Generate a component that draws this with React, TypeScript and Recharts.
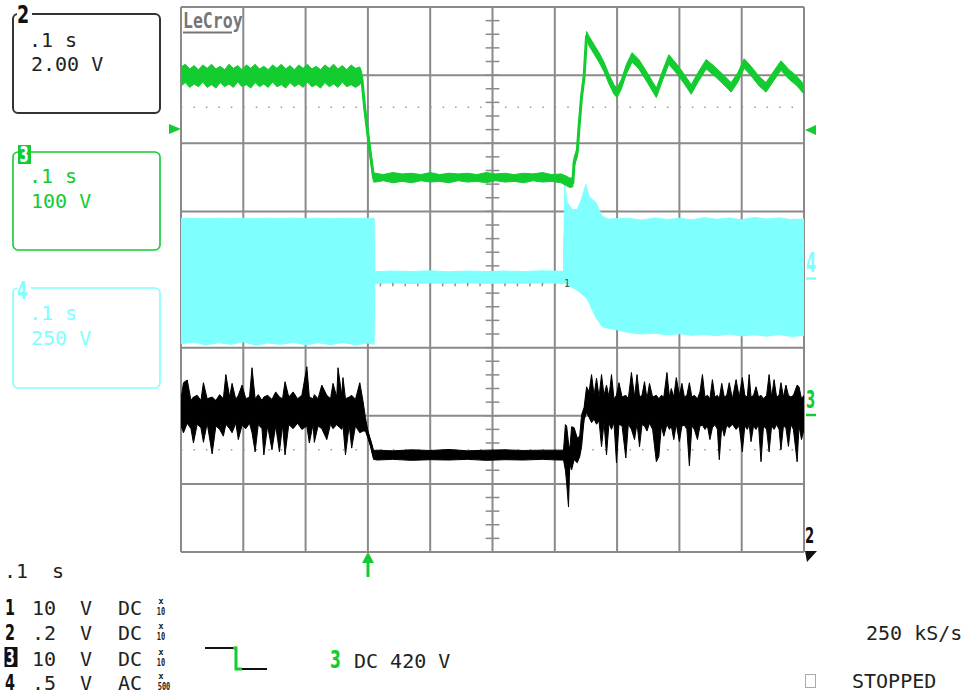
import React from 'react';
import { ComposedChart, Area, Line, XAxis, YAxis, ReferenceLine } from 'recharts';

// time axis: ms, 0.1 s/div, trigger at 0
const timeTicks = [-300, -200, -100, 0, 100, 200, 300, 400, 500, 600, 700];
const divTicks = [-4, -3, -2, -1, 0, 1, 2, 3, 4];
const dottedLevels = [2.53, -0.05, -2.5];

// channel 3 (green, 100 V/div): [t ms, low V, high V]
const greenTrace = [
  [-300, 484, 512], [-293, 489, 516], [-286, 482, 509], [-279, 487, 514], [-272, 483, 508], [-265, 490, 515],
  [-258, 482, 510], [-251, 486, 516], [-244, 481, 509], [-237, 489, 513], [-230, 483, 508], [-223, 487, 516],
  [-216, 482, 510], [-209, 490, 514], [-202, 483, 508], [-195, 486, 515], [-188, 481, 510], [-181, 489, 516],
  [-174, 483, 509], [-167, 487, 513], [-160, 482, 508], [-153, 490, 515], [-146, 483, 510], [-139, 486, 516],
  [-132, 481, 509], [-125, 489, 514], [-118, 483, 508], [-111, 487, 515], [-104, 482, 510], [-97, 490, 516],
  [-90, 483, 509], [-83, 486, 513], [-76, 481, 508], [-69, 489, 515], [-62, 483, 510], [-55, 487, 516],
  [-48, 482, 509], [-41, 490, 514], [-34, 483, 508], [-27, 486, 515], [-20, 482, 510], [-13, 486, 512],
  [-10, 490, 505], [-5, 443, 457], [3, 384, 398], [9, 343, 357],
  [12, 343, 356], [25, 345, 354], [40, 342, 357], [55, 344, 355], [70, 342, 356], [85, 345, 354],
  [100, 343, 357], [115, 344, 354], [130, 342, 356], [145, 345, 355], [160, 343, 356], [175, 344, 354],
  [190, 342, 357], [205, 345, 355], [220, 343, 356], [235, 344, 354], [250, 342, 356], [265, 345, 355],
  [280, 343, 357], [295, 344, 354], [310, 342, 355], [318, 338, 352], [324, 335, 349], [329, 336, 349],
  [331, 365, 379], [336, 380, 394], [339, 418, 432], [343, 462, 476], [347, 491, 505], [351, 552, 564],
  [355, 543, 557], [363, 531, 545], [371, 519, 533], [379, 505, 519], [387, 487, 501], [395, 472, 486],
  [400, 467, 481], [407, 480, 494], [415, 502, 516], [424, 519, 533], [435, 509, 523], [448, 490, 504],
  [463, 467, 481], [472, 490, 504], [483, 516, 530], [496, 502, 516], [508, 487, 501], [519, 472, 486],
  [530, 490, 504], [543, 509, 523], [556, 499, 513], [570, 487, 501], [583, 475, 489], [594, 490, 504],
  [604, 510, 524], [615, 499, 513], [628, 484, 498], [639, 475, 489], [650, 490, 504], [663, 507, 521],
  [676, 494, 508], [689, 484, 498], [700, 472, 486],
];

// channel 4 (cyan, 250 V/div, AC): [t ms, low V, high V]
const cyanTrace = [
  [-300, -236, 224], [-280, -230, 225], [-260, -240, 223], [-240, -232, 225], [-220, -238, 224], [-200, -229, 225],
  [-180, -241, 223], [-160, -233, 225], [-140, -238, 224], [-120, -230, 225], [-100, -240, 224], [-80, -232, 225],
  [-60, -239, 223], [-40, -231, 225], [-20, -240, 224], [0, -233, 225], [10, -238, 224],
  [11, -14, 28], [40, -12, 31], [70, -15, 29], [100, -13, 32], [130, -14, 28], [160, -12, 31], [190, -15, 29],
  [220, -13, 31], [250, -14, 29], [280, -12, 32], [310, -14, 30], [314.5, -14, 30],
  [315.5, -14, 349], [320, -18, 283], [328, -29, 257], [336, -40, 257], [342, -50, 290], [350, -66, 349],
  [355, -85, 305], [366, -140, 283], [376, -173, 232], [387, -180, 221], [399, -184, 224],
  [420, -195, 224], [440, -200, 218], [460, -197, 226], [480, -203, 220], [500, -199, 225], [520, -205, 219],
  [540, -201, 227], [560, -206, 221], [580, -200, 226], [600, -207, 219], [620, -203, 228], [640, -208, 222],
  [660, -202, 226], [680, -209, 220], [700, -205, 222],
];

// channel 2 (black, 2.00 V/div): [t ms, low V, high V]
const blackTrace = [
  [-300, 3.7, 4.5], [-296, 3.5, 4.97], [-290, 3.78, 5.05], [-284, 3.62, 4.45], [-280, 3.2, 4.55], [-274, 3.75, 4.6],
  [-268, 3.65, 4.45], [-264, 3.22, 4.97], [-258, 3.78, 4.5], [-250, 2.88, 4.55], [-244, 3.7, 4.45], [-238, 3.6, 4.62],
  [-232, 3.4, 4.5], [-228, 3.75, 5.21], [-222, 3.62, 4.55], [-218, 3.5, 4.95], [-212, 3.78, 4.48], [-208, 3.3, 4.6],
  [-202, 3.72, 4.9], [-196, 3.62, 4.5], [-190, 3.78, 4.55], [-186, 3.5, 5.41], [-181, 2.94, 4.5], [-176, 3.74, 4.62],
  [-170, 3.62, 4.45], [-167, 2.85, 4.55], [-161, 3.7, 4.6], [-154, 3.0, 4.48], [-148, 3.7, 4.7], [-142, 2.94, 4.55],
  [-137, 3.72, 4.5], [-133, 2.85, 5.0], [-127, 3.74, 4.55], [-120, 3.62, 4.7], [-113, 3.78, 4.5], [-106, 3.6, 4.6],
  [-98, 3.7, 5.44], [-94, 3.2, 4.55], [-88, 3.75, 4.5], [-86, 3.22, 4.62], [-80, 3.7, 4.5], [-74, 3.62, 4.9],
  [-66, 3.3, 4.6], [-60, 3.75, 4.5], [-56, 3.62, 4.95], [-50, 3.74, 4.55], [-48, 3.7, 5.41], [-42, 3.6, 4.6],
  [-40, 3.72, 5.12], [-36, 2.85, 4.5], [-30, 3.72, 4.55], [-26, 3.05, 4.6], [-20, 3.7, 4.48], [-13, 3.5, 4.97],
  [-8, 3.55, 4.45],
  [-4, 3.55, 3.95], [0, 3.35, 3.55], [5, 3.05, 3.25], [9, 2.72, 2.98],
  [15, 2.7, 2.99], [40, 2.72, 2.97], [70, 2.69, 3.0], [100, 2.71, 2.98], [130, 2.7, 3.01], [160, 2.72, 2.97],
  [190, 2.69, 2.99], [220, 2.71, 3.0], [250, 2.7, 2.98], [280, 2.72, 2.99], [305, 2.7, 2.99], [314, 2.7, 2.99],
  [317, 2.4, 3.74], [319, 2.03, 3.7], [322, 1.32, 3.2], [324, 2.6, 3.0], [327, 2.41, 3.68], [331, 2.71, 3.65],
  [336, 2.62, 3.35], [340, 2.8, 3.4], [343, 3.09, 4.03], [347, 3.88, 4.24], [351, 4.09, 4.85],
  [355, 3.95, 4.7], [359, 3.8, 5.21], [363, 3.9, 4.6], [367, 3.75, 5.1], [371, 3.85, 4.55], [375, 3.09, 5.21],
  [379, 3.8, 4.6], [383, 2.85, 4.9], [387, 3.78, 4.55], [391, 3.6, 5.21], [395, 3.8, 4.5], [399, 2.62, 4.6],
  [403, 3.75, 4.97], [408, 3.7, 4.55], [414, 2.76, 4.6], [418, 3.75, 4.5], [423, 3.6, 5.27], [428, 3.3, 4.55],
  [432, 3.78, 5.21], [436, 3.09, 4.55], [440, 3.74, 4.6], [444, 3.7, 5.0], [448, 3.55, 4.5], [452, 3.78, 4.95],
  [457, 3.6, 4.55], [463, 2.65, 4.6], [467, 2.8, 4.5], [471, 3.7, 4.6], [475, 3.4, 4.55], [480, 3.75, 5.27],
  [484, 3.6, 4.55], [487, 3.7, 4.8], [491, 3.3, 4.55], [495, 3.75, 5.12], [500, 3.24, 4.6], [504, 3.7, 4.95],
  [508, 3.72, 4.55], [512, 3.6, 4.6], [516, 2.53, 4.97], [520, 3.7, 4.55], [524, 3.6, 4.6], [529, 3.3, 4.5],
  [533, 3.7, 4.7], [537, 3.72, 5.21], [541, 3.6, 4.55], [545, 3.7, 4.6], [549, 3.3, 4.5], [553, 3.65, 5.06],
  [557, 3.74, 4.55], [561, 3.6, 4.6], [564, 2.71, 4.5], [568, 3.7, 4.95], [572, 3.4, 4.55], [576, 3.72, 4.6],
  [580, 3.65, 4.97], [585, 3.75, 4.5], [591, 3.6, 5.06], [596, 3.7, 4.55], [601, 2.94, 5.12], [605, 3.7, 4.6],
  [609, 3.6, 4.55], [612, 3.74, 5.21], [615, 3.24, 4.55], [619, 3.7, 4.6], [623, 3.6, 4.85], [627, 3.74, 4.55],
  [631, 2.65, 4.6], [635, 3.7, 4.5], [640, 3.6, 4.6], [644, 2.94, 5.21], [648, 3.7, 4.55], [652, 3.6, 5.06],
  [656, 3.74, 4.55], [660, 3.6, 4.6], [663, 3.0, 4.97], [667, 3.7, 4.55], [671, 3.65, 4.9], [675, 3.1, 4.6],
  [679, 3.74, 4.55], [683, 3.6, 4.6], [689, 2.65, 4.9], [692, 3.7, 4.85], [696, 3.3, 4.5], [700, 3.6, 4.6],
];

const GREEN = '#12cc30';
const CYAN = '#80ffff';
const GRID = '#8a8a8a';
const MONO = '"DejaVu Sans Mono", monospace';

const toRows = (arr) => arr.map(([t, lo, hi]) => ({ t, band: [lo, hi], mid: (lo + hi) / 2 }));
const greenData = toRows(greenTrace);
const cyanData = toRows(cyanTrace);
const blackData = toRows(blackTrace);

// minor ticks on the centre cross (5 per division)
const minorY = Array.from({ length: 41 }, (_, i) => -4 + i * 0.2);
const minorX = Array.from({ length: 51 }, (_, i) => -300 + i * 20);

const W = 971;
const H = 696;
const MARGIN = { top: 7, right: 167, bottom: 144, left: 181 };

function Axes() {
  return [
    <XAxis key="x" dataKey="t" type="number" domain={[-300, 700]} hide allowDataOverflow />,
    <YAxis key="div" yAxisId="div" type="number" domain={[-4, 4]} hide allowDataOverflow />,
    <YAxis key="ch3" yAxisId="ch3" type="number" domain={[-200, 600]} hide allowDataOverflow />,
    <YAxis key="ch4" yAxisId="ch4" type="number" domain={[-1000, 1000]} hide allowDataOverflow />,
    <YAxis key="ch2" yAxisId="ch2" type="number" domain={[0, 16]} hide allowDataOverflow />,
  ];
}

function NText({ x, y, s, size, fill, sx = 0.65 }) {
  return (
    <text transform={`translate(${x},${y}) scale(${sx},1)`} fontSize={size} fontWeight="bold"
      fill={fill} fontFamily='"DejaVu Sans", sans-serif'>{s}</text>
  );
}

function Mono({ x, y, s, fill = '#222', size = 20 }) {
  return <text x={x} y={y} fontSize={size} fill={fill} fontFamily={MONO}>{s}</text>;
}

function Overlay() {
  const rows = [
    { y: 615, v: '10', c: 'DC', m: '10' },
    { y: 640, v: '.2', c: 'DC', m: '10' },
    { y: 666, v: '10', c: 'DC', m: '10' },
    { y: 690, v: '.5', c: 'AC', m: '500' },
  ];
  return (
    <svg width={W} height={H} style={{ position: 'absolute', left: 0, top: 0 }}>
      {/* LeCroy logo */}
      <text transform="translate(183,28) scale(0.75,1)" fontSize={22} fontWeight="bold" fill="#767676"
        fontFamily={MONO}>LeCroy</text>
      <line x1={183} x2={232} y1={32.5} y2={32.5} stroke="#767676" strokeWidth={2} />

      {/* box 2 */}
      <rect x={13} y={14} width={147} height={99} rx={5} fill="none" stroke="#333" strokeWidth={2} />
      <rect x={17} y={8} width={15} height={12} fill="#fff" />
      <NText x={17} y={23} s="2" size={25} fill="#111" sx={0.7} />
      <Mono x={29} y={47} s=".1 s" />
      <Mono x={31} y={71} s="2.00 V" />

      {/* box 3 */}
      <rect x={13} y={152} width={147} height={98} rx={5} fill="none" stroke={GREEN} strokeWidth={1.6} />
      <rect x={18} y={145} width={13} height={19} fill={GREEN} />
      <NText x={19.5} y={162} s="3" size={22} fill="#fff" sx={0.6} />
      <Mono x={29} y={183} s=".1 s" fill={GREEN} />
      <Mono x={31} y={208} s="100 V" fill={GREEN} />

      {/* box 4 */}
      <rect x={13} y={288} width={147} height={100} rx={5} fill="none" stroke={CYAN} strokeWidth={1.6} />
      <rect x={17} y={282} width={14} height={12} fill="#fff" />
      <NText x={17} y={299} s="4" size={24} fill={CYAN} sx={0.6} />
      <Mono x={29} y={320} s=".1 s" fill={CYAN} />
      <Mono x={31} y={345} s="250 V" fill={CYAN} />

      {/* trigger level markers */}
      <polygon points="169,124 169,134 181,129" fill={GREEN} />
      <polygon points="805,130 816,125 816,135" fill={GREEN} />

      {/* right channel markers */}
      <NText x={806} y={272} s="4" size={26} fill={CYAN} sx={0.55} />
      <line x1={806} x2={816} y1={278.5} y2={278.5} stroke={CYAN} strokeWidth={2.5} />
      <NText x={806} y={408} s="3" size={24} fill={GREEN} sx={0.55} />
      <line x1={806} x2={816} y1={415} y2={415} stroke={GREEN} strokeWidth={2.5} />
      <NText x={805} y={543} s="2" size={22} fill="#111" sx={0.6} />
      <polygon points="805,551 817,551 807,562" fill="#111" />

      {/* cyan trace marker */}
      <text x={564} y={287} fontSize={10} fill="#555" fontFamily={MONO}>1</text>

      {/* trigger time arrow */}
      <polygon points="362,563 368,552 374,563" fill={GREEN} />
      <rect x={366.5} y={560} width={3} height={17} fill={GREEN} />

      {/* bottom status */}
      <Mono x={4} y={578} s=".1" />
      <Mono x={52} y={578} s="s" />
      {rows.map((r, i) => (
        <g key={i}>
          {i === 2 ? (
            <g>
              <rect x={4.5} y={r.y - 19} width={13} height={20} fill="#111" />
              <NText x={6} y={r.y - 1} s="3" size={21} fill="#fff" sx={0.6} />
            </g>
          ) : (
            <NText x={5} y={r.y} s={String(i + 1)} size={22} fill="#111" sx={0.65} />
          )}
          <Mono x={32} y={r.y} s={r.v} />
          <Mono x={80} y={r.y} s="V" />
          <Mono x={118} y={r.y} s={r.c} />
          <text x={161} y={r.y - 11} fontSize={9} fontWeight="bold" textAnchor="middle" fill="#222"
            fontFamily={MONO}>x</text>
          <text transform={`translate(${r.m.length === 3 ? 164 : 161},${r.y}) scale(0.7,1)`} fontSize={10}
            fontWeight="bold" textAnchor="middle" fill="#222" fontFamily={MONO}>{r.m}</text>
        </g>
      ))}

      {/* trigger slope symbol */}
      <line x1={205} x2={233} y1={648} y2={648} stroke="#111" strokeWidth={2} />
      <polyline points="233,648 236,648 236,669 242,669" fill="none" stroke={GREEN} strokeWidth={3} />
      <line x1={242} x2={267} y1={669} y2={669} stroke="#111" strokeWidth={2} />

      <NText x={330} y={668} s="3" size={24} fill={GREEN} sx={0.65} />
      <Mono x={354} y={668} s="DC 420 V" />

      <Mono x={866} y={640} s="250 kS/s" />
      <rect x={805.5} y={674.5} width={10} height={13} fill="none" stroke="#aaa" strokeWidth={1} />
      <Mono x={852} y={688} s="STOPPED" />
    </svg>
  );
}

function Graticule() {
  return (
    <ComposedChart width={W} height={H} margin={MARGIN}>
      {Axes()}
      {timeTicks.map((t) => (
        <ReferenceLine key={'vx' + t} x={t} yAxisId="div" stroke={GRID} strokeWidth={2} />
      ))}
      {divTicks.map((d) => (
        <ReferenceLine key={'hy' + d} y={d} yAxisId="div" stroke={GRID} strokeWidth={2} />
      ))}
      {dottedLevels.map((d) => (
        <ReferenceLine key={'dot' + d} y={d} yAxisId="div" stroke="#9a9a9a" strokeWidth={1.5}
          strokeDasharray="1.5 10.96" />
      ))}
      {minorY.map((d, i) => (
        <ReferenceLine key={'my' + i} yAxisId="div" stroke={GRID} strokeWidth={1.5}
          segment={[{ x: 189, y: d }, { x: 211, y: d }]} />
      ))}
      {minorX.map((t, i) => (
        <ReferenceLine key={'mx' + i} yAxisId="div" stroke={GRID} strokeWidth={1.5}
          segment={[{ x: t, y: -0.1 }, { x: t, y: 0.1 }]} />
      ))}
    </ComposedChart>
  );
}

function Traces() {
  return (
    <ComposedChart width={W} height={H} margin={MARGIN}>
      {Axes()}
      <Area data={cyanData} yAxisId="ch4" dataKey="band" type="linear" stroke={CYAN} strokeWidth={1}
        fill={CYAN} fillOpacity={1} isAnimationActive={false} dot={false} activeDot={false} />
      <Line data={cyanData} yAxisId="ch4" dataKey="mid" type="linear" stroke={CYAN} strokeWidth={2}
        dot={false} activeDot={false} isAnimationActive={false} />

      <Area data={blackData} yAxisId="ch2" dataKey="band" type="linear" stroke="#000" strokeWidth={1}
        fill="#000" fillOpacity={1} isAnimationActive={false} dot={false} activeDot={false} />
      <Line data={blackData} yAxisId="ch2" dataKey="mid" type="linear" stroke="#000" strokeWidth={2.5}
        dot={false} activeDot={false} isAnimationActive={false} />

      <Area data={greenData} yAxisId="ch3" dataKey="band" type="linear" stroke={GREEN} strokeWidth={1}
        fill={GREEN} fillOpacity={1} isAnimationActive={false} dot={false} activeDot={false} />
      <Line data={greenData} yAxisId="ch3" dataKey="mid" type="linear" stroke={GREEN} strokeWidth={3}
        dot={false} activeDot={false} isAnimationActive={false} />
    </ComposedChart>
  );
}

export default function App() {
  return (
    <div style={{ position: 'absolute', left: 0, top: 0, width: W, height: H, background: '#fff' }}>
      <div style={{ position: 'absolute', left: 0, top: 0 }}>
        <Graticule />
      </div>
      <div style={{ position: 'absolute', left: 0, top: 0 }}>
        <Traces />
      </div>
      <Overlay />
    </div>
  );
}
